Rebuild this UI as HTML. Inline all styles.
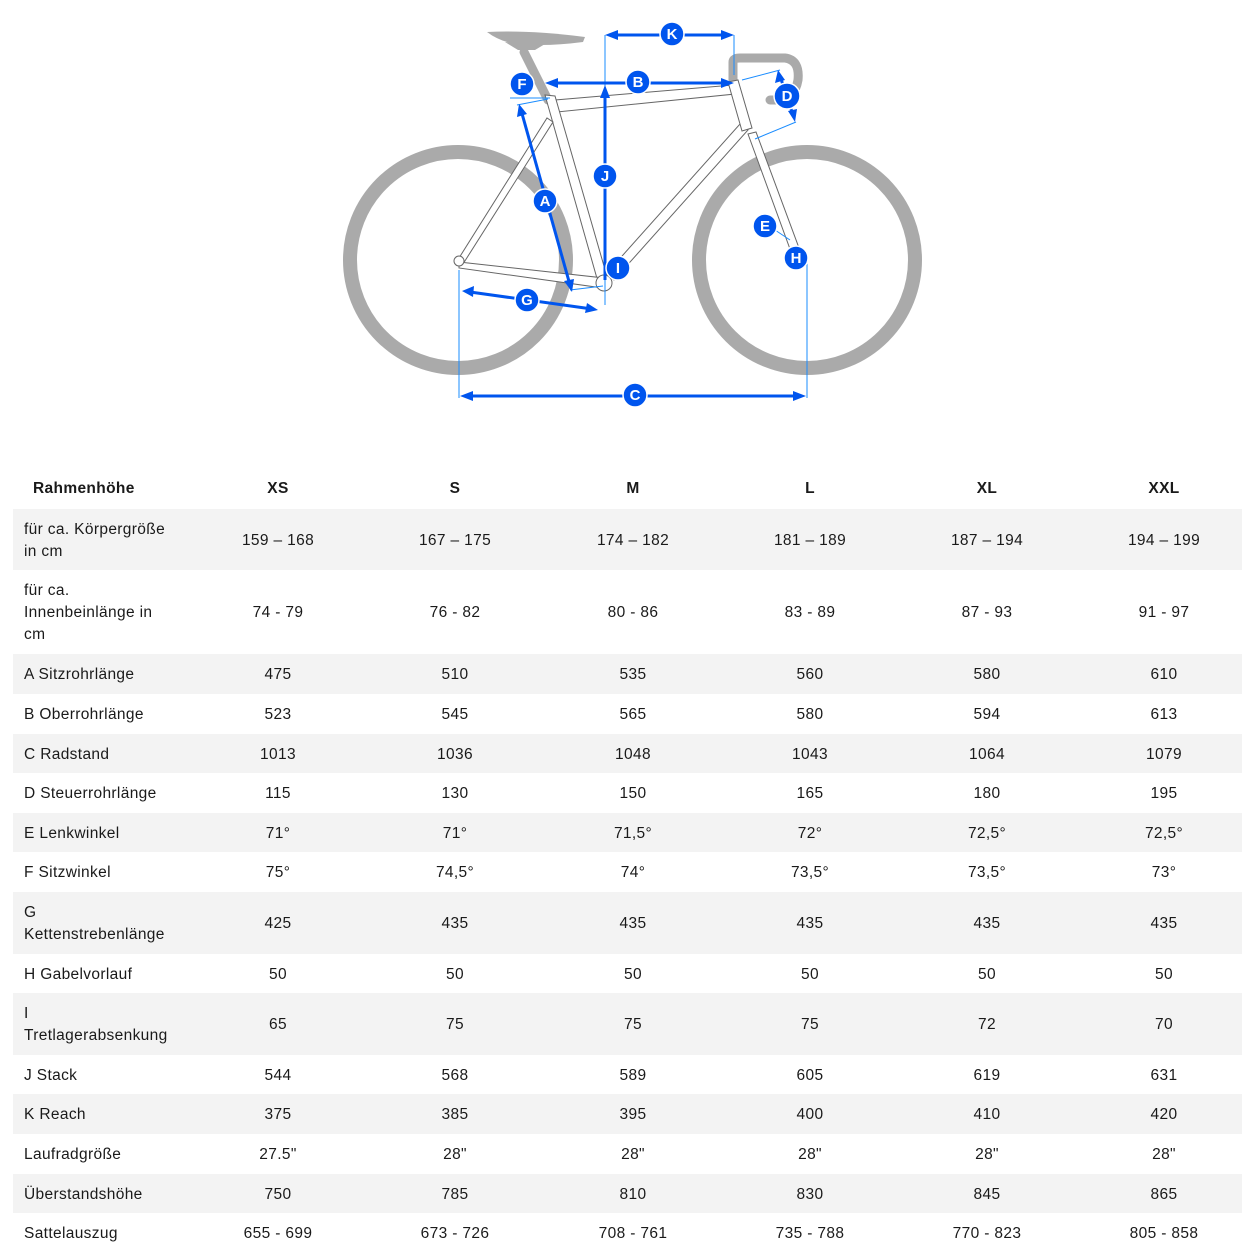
<!DOCTYPE html>
<html><head><meta charset="utf-8"><style>
body{margin:0;width:1255px;height:1255px;background:#fff;overflow:hidden;font-family:"Liberation Sans",sans-serif;color:#1a1a1a;position:relative}
.r{position:absolute;left:13px;width:1229px;font-size:15.5px;letter-spacing:0.35px}
.g{background:#f3f3f3}
.r div{position:absolute;top:0;height:100%;display:flex;align-items:center}
.l{left:11px;width:190px;line-height:22px;padding-top:2px;box-sizing:border-box}
.v{width:160px;justify-content:center;padding-top:2px;box-sizing:border-box}
.h{font-weight:bold}
</style></head><body>
<svg width="1255" height="440" style="position:absolute;left:0;top:0" xmlns="http://www.w3.org/2000/svg">
<g fill="none" stroke="#aaa" stroke-width="14">
<circle cx="458" cy="260" r="108"/><circle cx="807" cy="260" r="108"/>
</g>
<g fill="none" stroke="#aaa" stroke-width="9" stroke-linecap="round">
<path d="M548 100 L524 52"/>
<path d="M733 80 L733 62 Q733 58 740 58 L785 58 Q800 60 798 80 Q795 98 778 100 L770 100"/>
</g>
<path d="M487 32 Q530 30 585 37 L583 42 Q560 45 540 45 L520 45 Q500 42 487 32Z" fill="#aaa"/>
<path d="M505 42 L518 50 L535 50 L545 44Z" fill="#aaa"/>
<g fill="#fff" stroke="#666" stroke-width="1">
<path d="M555 100 L733 85 L735 94 L557 112Z"/>
<path d="M545 95 L555 96 L608 280 L598 282Z"/>
<path d="M459 258 L547 118 L553 122 L463 264Z"/>
<path d="M459 262 L604 278 L603 288 L459 268Z"/>
<path d="M740 124 L748 130 L614 280 L606 274Z"/>
<path d="M728 82 L738 80 L752 128 L742 131Z"/>
<path d="M748 134 L756 132 L802 256 L794 260Z"/>
<circle cx="604" cy="283" r="8"/>
<circle cx="459" cy="261" r="5"/>
</g>
<g stroke="#1a8cff" stroke-width="1" fill="none">
<line x1="605" y1="35" x2="605" y2="305"/><line x1="734" y1="35" x2="734" y2="75"/>
<line x1="459" y1="270" x2="459" y2="398"/><line x1="807" y1="260" x2="807" y2="398"/>
<line x1="510" y1="98" x2="550" y2="98"/><line x1="775" y1="230" x2="790" y2="240"/>
<line x1="570" y1="290" x2="603" y2="286"/><line x1="517" y1="105" x2="548" y2="99"/>
<line x1="755" y1="139" x2="796" y2="122"/><line x1="742" y1="80" x2="780" y2="70"/>
</g>
<g stroke="#0055ee" stroke-width="3" fill="none">
<line x1="612" y1="35" x2="728" y2="35"/>
<line x1="552" y1="83" x2="728" y2="83"/>
<line x1="605" y1="92" x2="605" y2="280"/>
<line x1="521" y1="110" x2="570" y2="285"/>
<line x1="470" y1="292" x2="592" y2="309"/>
<line x1="468" y1="396" x2="798" y2="396"/>
<line x1="780" y1="76" x2="793" y2="115"/>
</g>
<g fill="#0055ee">
<path d="M605 35 L618 30 L618 40Z"/><path d="M734 35 L721 30 L721 40Z"/>
<path d="M545 83 L558 78 L558 88Z"/><path d="M734 83 L721 78 L721 88Z"/>
<path d="M605 85 L600 98 L610 98Z"/>
<path d="M519 104 L517 117 L527 114Z"/><path d="M572 292 L564 281 L574 279Z"/>
<path d="M462 291 L474 286 L473 297Z"/><path d="M598 310 L585 313 L587 303Z"/>
<path d="M460 396 L473 391 L473 401Z"/><path d="M806 396 L793 391 L793 401Z"/>
<path d="M778 70 L775 83 L785 80Z"/><path d="M795 122 L788 111 L797 109Z"/>
</g>
<g fill="#0055ee" stroke="#fff" stroke-width="1.5">
<circle cx="672" cy="34" r="12"/><circle cx="638" cy="82" r="12"/><circle cx="522" cy="84" r="12"/>
<circle cx="787" cy="96" r="13"/><circle cx="605" cy="176" r="12"/><circle cx="545" cy="201" r="12"/>
<circle cx="765" cy="226" r="12"/><circle cx="796" cy="258" r="12"/><circle cx="618" cy="268" r="12"/>
<circle cx="527" cy="300" r="12"/><circle cx="635" cy="395" r="12"/>
</g>
<g fill="#fff" font-family="Liberation Sans" font-weight="bold" font-size="15" text-anchor="middle">
<text x="672" y="39">K</text><text x="638" y="87">B</text><text x="522" y="89">F</text>
<text x="787" y="101">D</text><text x="605" y="181">J</text><text x="545" y="206">A</text>
<text x="765" y="231">E</text><text x="796" y="263">H</text><text x="618" y="273">I</text>
<text x="527" y="305">G</text><text x="635" y="400">C</text>
</g>
</svg>

<div class="r h" style="top:468px;height:40px"><div class="l" style="left:20px">Rahmenhöhe</div><div class="v" style="left:185px">XS</div><div class="v" style="left:362px">S</div><div class="v" style="left:540px">M</div><div class="v" style="left:717px">L</div><div class="v" style="left:894px">XL</div><div class="v" style="left:1071px">XXL</div></div>

<div class="r g" style="top:509px;height:61px"><div class="l">für ca. Körpergröße<br>in cm</div><div class="v" style="left:185px">159 – 168</div><div class="v" style="left:362px">167 – 175</div><div class="v" style="left:540px">174 – 182</div><div class="v" style="left:717px">181 – 189</div><div class="v" style="left:894px">187 – 194</div><div class="v" style="left:1071px">194 – 199</div></div>

<div class="r" style="top:570px;height:84px"><div class="l">für ca.<br>Innenbeinlänge in<br>cm</div><div class="v" style="left:185px">74 - 79</div><div class="v" style="left:362px">76 - 82</div><div class="v" style="left:540px">80 - 86</div><div class="v" style="left:717px">83 - 89</div><div class="v" style="left:894px">87 - 93</div><div class="v" style="left:1071px">91 - 97</div></div>

<div class="r g" style="top:654px;height:40px"><div class="l">A Sitzrohrlänge</div><div class="v" style="left:185px">475</div><div class="v" style="left:362px">510</div><div class="v" style="left:540px">535</div><div class="v" style="left:717px">560</div><div class="v" style="left:894px">580</div><div class="v" style="left:1071px">610</div></div>

<div class="r" style="top:694px;height:40px"><div class="l">B Oberrohrlänge</div><div class="v" style="left:185px">523</div><div class="v" style="left:362px">545</div><div class="v" style="left:540px">565</div><div class="v" style="left:717px">580</div><div class="v" style="left:894px">594</div><div class="v" style="left:1071px">613</div></div>

<div class="r g" style="top:734px;height:39px"><div class="l">C Radstand</div><div class="v" style="left:185px">1013</div><div class="v" style="left:362px">1036</div><div class="v" style="left:540px">1048</div><div class="v" style="left:717px">1043</div><div class="v" style="left:894px">1064</div><div class="v" style="left:1071px">1079</div></div>

<div class="r" style="top:773px;height:40px"><div class="l">D Steuerrohrlänge</div><div class="v" style="left:185px">115</div><div class="v" style="left:362px">130</div><div class="v" style="left:540px">150</div><div class="v" style="left:717px">165</div><div class="v" style="left:894px">180</div><div class="v" style="left:1071px">195</div></div>

<div class="r g" style="top:813px;height:39px"><div class="l">E Lenkwinkel</div><div class="v" style="left:185px">71°</div><div class="v" style="left:362px">71°</div><div class="v" style="left:540px">71,5°</div><div class="v" style="left:717px">72°</div><div class="v" style="left:894px">72,5°</div><div class="v" style="left:1071px">72,5°</div></div>

<div class="r" style="top:852px;height:40px"><div class="l">F Sitzwinkel</div><div class="v" style="left:185px">75°</div><div class="v" style="left:362px">74,5°</div><div class="v" style="left:540px">74°</div><div class="v" style="left:717px">73,5°</div><div class="v" style="left:894px">73,5°</div><div class="v" style="left:1071px">73°</div></div>

<div class="r g" style="top:892px;height:62px"><div class="l">G<br>Kettenstrebenlänge</div><div class="v" style="left:185px">425</div><div class="v" style="left:362px">435</div><div class="v" style="left:540px">435</div><div class="v" style="left:717px">435</div><div class="v" style="left:894px">435</div><div class="v" style="left:1071px">435</div></div>

<div class="r" style="top:954px;height:39px"><div class="l">H Gabelvorlauf</div><div class="v" style="left:185px">50</div><div class="v" style="left:362px">50</div><div class="v" style="left:540px">50</div><div class="v" style="left:717px">50</div><div class="v" style="left:894px">50</div><div class="v" style="left:1071px">50</div></div>

<div class="r g" style="top:993px;height:62px"><div class="l">I<br>Tretlagerabsenkung</div><div class="v" style="left:185px">65</div><div class="v" style="left:362px">75</div><div class="v" style="left:540px">75</div><div class="v" style="left:717px">75</div><div class="v" style="left:894px">72</div><div class="v" style="left:1071px">70</div></div>

<div class="r" style="top:1055px;height:39px"><div class="l">J Stack</div><div class="v" style="left:185px">544</div><div class="v" style="left:362px">568</div><div class="v" style="left:540px">589</div><div class="v" style="left:717px">605</div><div class="v" style="left:894px">619</div><div class="v" style="left:1071px">631</div></div>

<div class="r g" style="top:1094px;height:40px"><div class="l">K Reach</div><div class="v" style="left:185px">375</div><div class="v" style="left:362px">385</div><div class="v" style="left:540px">395</div><div class="v" style="left:717px">400</div><div class="v" style="left:894px">410</div><div class="v" style="left:1071px">420</div></div>

<div class="r" style="top:1134px;height:40px"><div class="l">Laufradgröße</div><div class="v" style="left:185px">27.5"</div><div class="v" style="left:362px">28"</div><div class="v" style="left:540px">28"</div><div class="v" style="left:717px">28"</div><div class="v" style="left:894px">28"</div><div class="v" style="left:1071px">28"</div></div>

<div class="r g" style="top:1174px;height:39px"><div class="l">Überstandshöhe</div><div class="v" style="left:185px">750</div><div class="v" style="left:362px">785</div><div class="v" style="left:540px">810</div><div class="v" style="left:717px">830</div><div class="v" style="left:894px">845</div><div class="v" style="left:1071px">865</div></div>

<div class="r" style="top:1213px;height:40px"><div class="l">Sattelauszug</div><div class="v" style="left:185px">655 - 699</div><div class="v" style="left:362px">673 - 726</div><div class="v" style="left:540px">708 - 761</div><div class="v" style="left:717px">735 - 788</div><div class="v" style="left:894px">770 - 823</div><div class="v" style="left:1071px">805 - 858</div></div>
</body></html>
